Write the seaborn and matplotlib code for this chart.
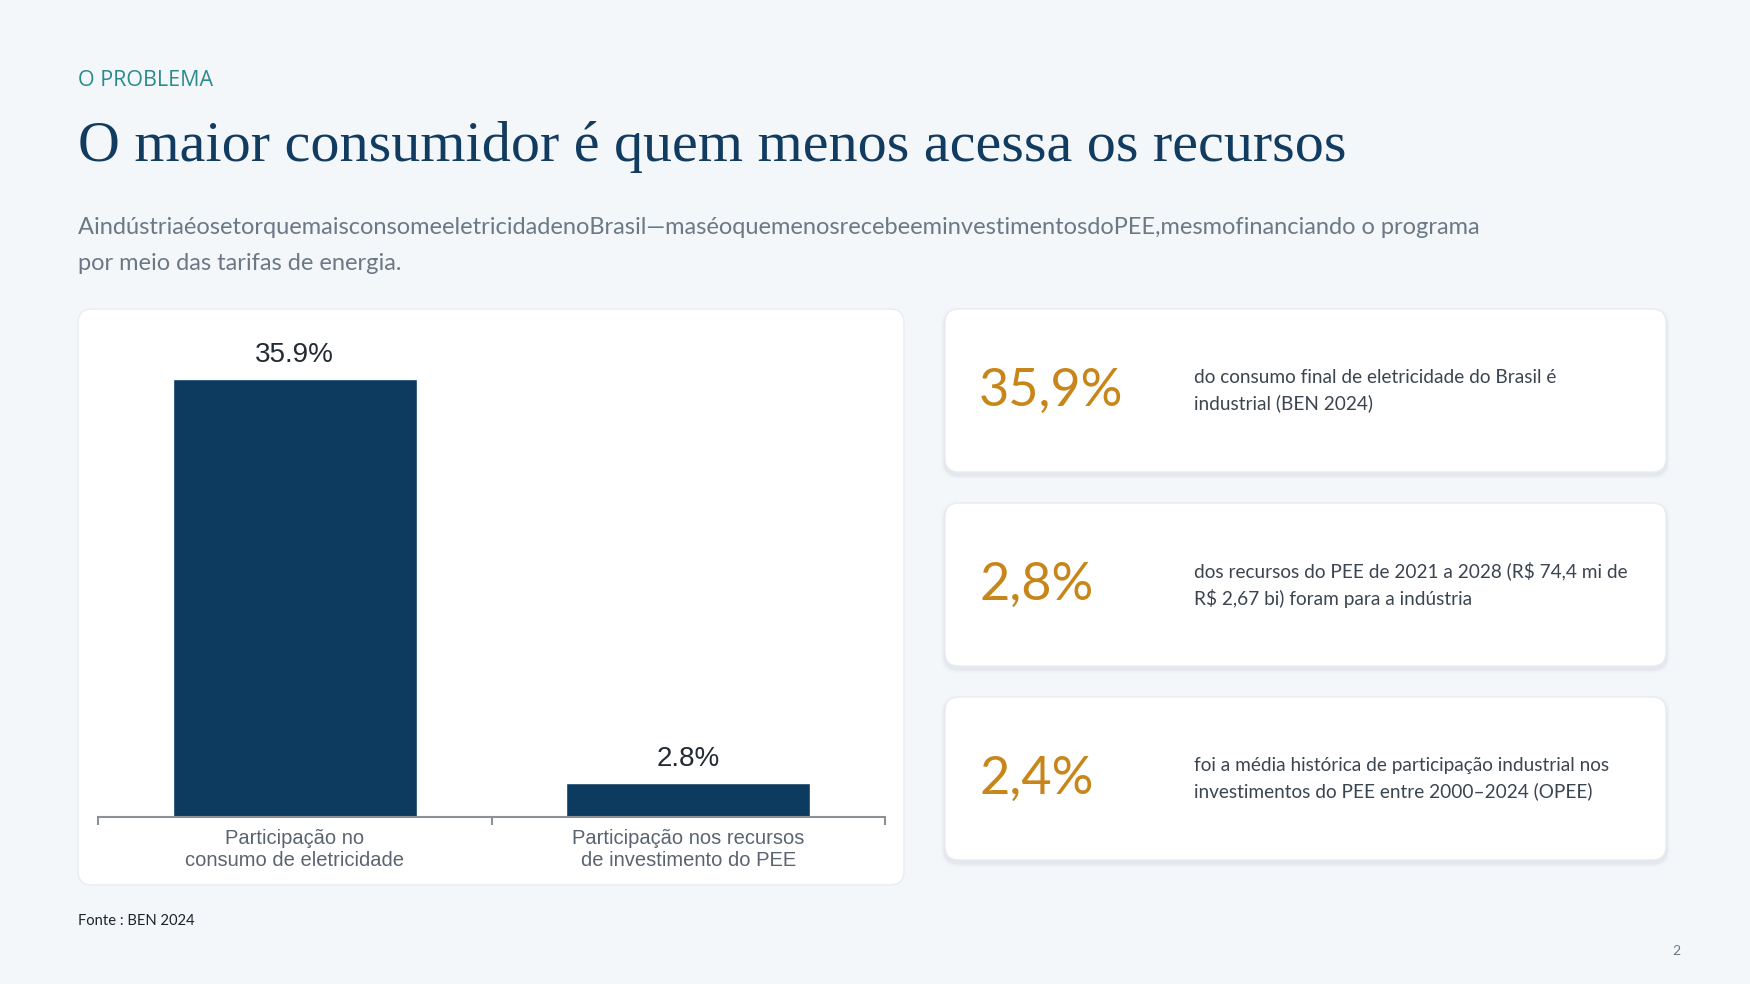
import matplotlib
matplotlib.use("Agg")
import matplotlib.pyplot as plt
import seaborn as sns
from matplotlib.patches import FancyBboxPatch
from matplotlib.ticker import FixedLocator

# dados do gráfico
categorias = ["Participação no\nconsumo de eletricidade",
              "Participação nos recursos\nde investimento do PEE"]
valores = [35.9, 2.8]
rotulos = ["35.9%", "2.8%"]

# cartões de destaque
destaques = ["35,9%", "2,8%", "2,4%"]
descricoes = [
    "do consumo final de eletricidade do Brasil é\nindustrial (BEN 2024)",
    "dos recursos do PEE de 2021 a 2028 (R$ 74,4 mi de\nR$ 2,67 bi) foram para a indústria",
    "foi a média histórica de participação industrial nos\ninvestimentos do PEE entre 2000–2024 (OPEE)",
]

kicker = "O PROBLEMA"
titulo = "O maior consumidor é quem menos acessa os recursos"
subtitulo1 = "AindústriaéosetorquemaisconsomeeletricidadenoBrasil—maséoquemenosrecebeeminvestimentosdoPEE,mesmofinanciando o programa"
subtitulo2 = "por meio das tarifas de energia."
fonte = "Fonte : BEN 2024"

FUNDO = "#f4f7fa"
AZUL = "#0d3b5f"
TEAL = "#2b8a8c"
LARANJA = "#c8861a"

sns.set_theme(style="white")
plt.rcParams["font.family"] = ["Lato", "DejaVu Sans"]

fig = plt.figure(figsize=(17.5, 9.84), dpi=100, facecolor=FUNDO)
bg = fig.add_axes([0, 0, 1, 1], zorder=0)
bg.set_xlim(0, 1750)
bg.set_ylim(984, 0)
bg.axis("off")
bg.patch.set_alpha(0)

r = fig.canvas.get_renderer()


def ajusta(t, largura):
    w = t.get_window_extent(r).width
    t.set_fontsize(t.get_fontsize() * largura / w)


def cartao(x, y, w, h, sombra=True):
    if sombra:
        for k, a in [(8, 0.04), (5, 0.06), (3, 0.08)]:
            bg.add_patch(FancyBboxPatch((x - k / 2, y - k / 2 + 3), w + k, h + k,
                                        boxstyle="round,pad=0,rounding_size=16",
                                        fc="#9aa8b8", ec="none", alpha=a))
    bg.add_patch(FancyBboxPatch((x, y), w, h, boxstyle="round,pad=0,rounding_size=14",
                                fc="white", ec="#e8ecf1", lw=1))


# cabeçalho
bg.text(78, 81, kicker, color=TEAL, fontsize=15.5, family=["Open Sans", "DejaVu Sans"],
        va="center", ha="left")
t = bg.text(78, 147, titulo, color="#123b60", fontsize=42,
            family=["Liberation Serif", "DejaVu Serif"], va="center", ha="left")
ajusta(t, 1270)
s2 = bg.text(78, 264, subtitulo2, color="#6c7885", fontsize=16, va="center", ha="left")
ajusta(s2, 326)
bg.text(78, 227, subtitulo1, color="#6c7885", fontsize=s2.get_fontsize(),
        va="center", ha="left")

# cartão do gráfico
cartao(78, 309, 826, 576, sombra=False)

# cartões da direita
ys = [309, 503, 697]
tam_desc = None
for i, (d, txt) in enumerate(zip(destaques, descricoes)):
    y0 = ys[i]
    cartao(945, y0, 721, 163)
    n = bg.text(979, y0 + 82, d, color=LARANJA, fontsize=44, fontweight="normal",
                va="center", ha="left")
    if i == 0:
        ajusta(n, 145)
        tam_num = n.get_fontsize()
    else:
        n.set_fontsize(tam_num)
    dt = bg.text(1194, y0 + 82, txt, color="#3a4550", fontsize=14, va="center",
                 ha="left", linespacing=1.55, parse_math=False)
    if i == 0:
        tmp = bg.text(0, 0, descricoes[1].split("\n")[0], fontsize=14, parse_math=False)
        w = tmp.get_window_extent(r).width
        tam_desc = 14 * 434 / w
        tmp.remove()
    dt.set_fontsize(tam_desc)

f = bg.text(78, 921, fonte, color="#1c232b", fontsize=11, va="center", ha="left")
ajusta(f, 116)
bg.text(1676, 951, "2", color="#6c7885", fontsize=10, va="center", ha="center")

# gráfico de barras
ax = fig.add_axes([98 / 1750, 1 - 817 / 984, 787 / 1750, 488 / 984], zorder=2)
ax.patch.set_alpha(0)
sns.barplot(x=categorias, y=valores, ax=ax, color=AZUL, width=0.62, saturation=1)
ax.set_ylim(0, 40)
ax.set_yticks([])
ax.set_xlabel("")
ax.set_ylabel("")
for lado in ["top", "left", "right"]:
    ax.spines[lado].set_visible(False)
ax.spines["bottom"].set_color("#8c9196")
ax.spines["bottom"].set_linewidth(1.5)
ax.xaxis.set_minor_locator(FixedLocator([-0.5, 0.5, 1.5]))
ax.tick_params(axis="x", which="minor", bottom=True, length=6, width=1.5,
               color="#8c9196", direction="out")
ax.tick_params(axis="x", which="major", length=0, pad=9, labelsize=14.5,
               labelcolor="#5a6470")
for lb in ax.get_xticklabels():
    lb.set_family(["Liberation Sans", "DejaVu Sans"])
    lb.set_linespacing(1.2)
ax.bar_label(ax.containers[0], labels=rotulos, padding=8, fontsize=20,
             color="#222a33", family=["Liberation Sans", "DejaVu Sans"])

fig.savefig("out.png", dpi=100, facecolor=FUNDO)
